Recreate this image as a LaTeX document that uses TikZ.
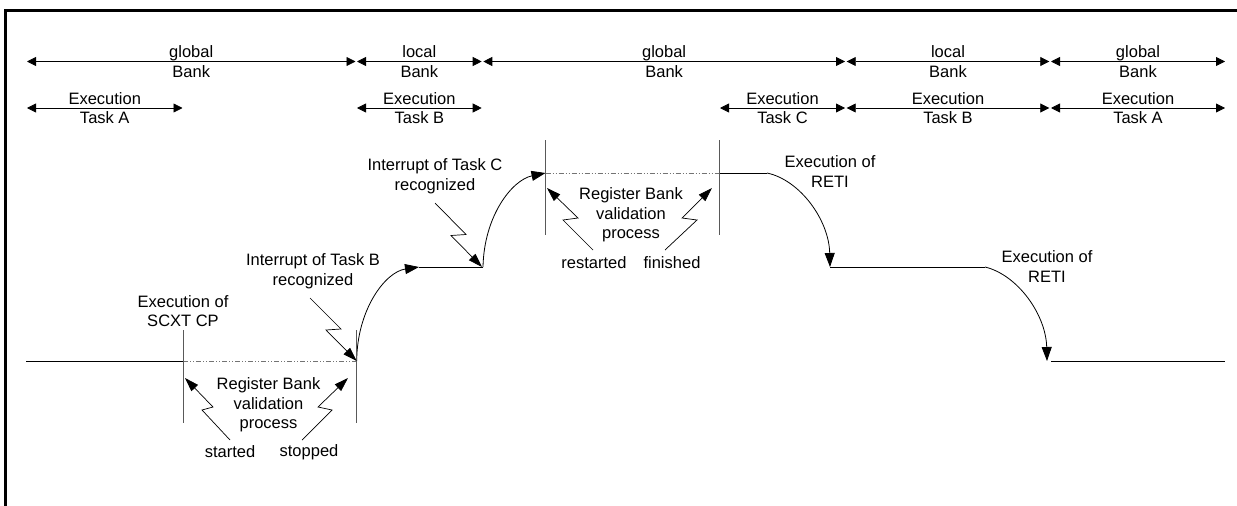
\documentclass[tikz,border=0pt]{standalone}
\usepackage{fontspec}
\setmainfont{Liberation Sans}
\usetikzlibrary{arrows.meta}
\begin{document}
\begin{tikzpicture}[x=1pt,y=-1pt,
  lbl/.style={align=center,font=\fontsize{16.5}{19.5}\selectfont,inner sep=0pt},
  span/.style={line width=0.8pt,{Triangle[length=9pt,width=9pt]}-{Triangle[length=9pt,width=9pt]}},
  wave/.style={line width=0.8pt},
  bigarrow/.style={-{Triangle[length=14pt,width=10pt]}},
  bolt/.style={line width=0.7pt,-{Triangle[length=14pt,width=9pt]}},
  vline/.style={line width=1pt,black!65},
  dd/.style={line width=0.6pt,black!55,dash pattern=on 5pt off 2pt on 1pt off 2pt on 1pt off 2pt},
]
\useasboundingbox (0,0) rectangle (1237,506);
% frame
\draw[line width=2.5pt] (5.5,506) -- (5.5,10.5) -- (1237,10.5);

% ---- top row: banks
\coordinate (a0) at (27,61.5);
\coordinate (a1) at (355.5,61.5);  \coordinate (a1r) at (357,61.5);
\coordinate (a2) at (481.7,61.5);  \coordinate (a2r) at (483.3,61.5);
\coordinate (a3) at (845,61.5);    \coordinate (a3r) at (846.7,61.5);
\coordinate (a4) at (1049.3,61.5); \coordinate (a4r) at (1051,61.5);
\coordinate (a5) at (1225,61.5);
\draw[span] (a0) -- node[lbl] (bk1) {global\\Bank} (a1);
\draw[span] (a1r) -- node[lbl] (bk2) {local\\Bank} (a2);
\draw[span] (a2r) -- node[lbl] (bk3) {global\\Bank} (a3);
\draw[span] (a3r) -- node[lbl] (bk4) {local\\Bank} (a4);
\draw[span] (a4r) -- node[lbl] (bk5) {global\\Bank} (a5);

% ---- second row: tasks
\coordinate (t1a) at (27,108);     \coordinate (t1b) at (182.5,108);
\coordinate (t2a) at (357,108);    \coordinate (t2b) at (481.7,108);
\coordinate (t3a) at (720,108);    \coordinate (t3b) at (845,108);
\coordinate (t4a) at (846.7,108);  \coordinate (t4b) at (1049.3,108);
\coordinate (t5a) at (1051,108);   \coordinate (t5b) at (1225,108);
\draw[span] (t1a) -- node[lbl] (ex1) {Execution\\Task A} (t1b);
\draw[span] (t2a) -- node[lbl] (ex2) {Execution\\Task B} (t2b);
\draw[span] (t3a) -- node[lbl] (ex3) {Execution\\Task C} (t3b);
\draw[span] (t4a) -- node[lbl] (ex4) {Execution\\Task B} (t4b);
\draw[span] (t5a) -- node[lbl] (ex5) {Execution\\Task A} (t5b);

% ---- waveform
\coordinate (lo0) at (26,361);
\coordinate (s1) at (183,361);
\coordinate (s2) at (356.7,361);
\coordinate (m1) at (419,267);
\coordinate (m2) at (483,267);
\coordinate (h0) at (545.5,173);
\coordinate (h1) at (719,173);
\coordinate (h2) at (767,173);
\coordinate (m3) at (830,267);
\coordinate (m4) at (985,267);
\coordinate (lo1) at (1047,361);
\coordinate (lo2) at (1051,361);
\coordinate (lo3) at (1225,361);

\draw[wave] (lo0) -- (s1);
\draw[dd] (s1) -- (s2);
\draw[wave,bigarrow] (s2) .. controls (357,310) and (385,272) .. (m1);
\draw[wave] (m1) -- (m2);
\draw[wave,bigarrow] (m2) .. controls (484,216) and (512,180) .. (h0);
\draw[dd] (h0) -- (h1);
\draw[wave] (h1) -- (h2);
\draw[wave,bigarrow] (h2) .. controls (800,180) and (829,220) .. (m3);
\draw[wave] (m3) -- (m4);
\draw[wave,bigarrow] (m4) .. controls (1018,275) and (1046,315) .. (lo1);
\draw[wave] (lo2) -- (lo3);

% vertical markers
\coordinate (v1t) at (183,330);   \coordinate (v1b) at (183,423);
\coordinate (v2t) at (356.7,330); \coordinate (v2b) at (356.7,423);
\coordinate (v3t) at (545.5,140); \coordinate (v3b) at (545.5,235);
\coordinate (v4t) at (719,140);   \coordinate (v4b) at (719,235);
\draw[vline] (v1t) -- (v1b);
\draw[vline] (v2t) -- (v2b);
\draw[vline] (v3t) -- (v3b);
\draw[vline] (v4t) -- (v4b);

% ---- labels
\node[lbl] (scxt) at (183,311) {Execution of\\SCXT CP};
\node[lbl] (intb) at (313,271) {Interrupt of Task B\\recognized};
\node[lbl] (intc) at (435,176) {Interrupt of Task C\\recognized};
\node[lbl] (rb1) at (268.5,405) {Register Bank\\validation\\process};
\node[lbl] (rb2) at (631,215) {Register Bank\\validation\\process};
\node[lbl] (started) at (230,452) {started};
\node[lbl] (stopped) at (309,452) {stopped};
\node[lbl] (restarted) at (594,263) {restarted};
\node[lbl] (finished) at (672,263) {finished};
\node[lbl] (reti1) at (830,171.5) {Execution of\\RETI};
\node[lbl] (reti2) at (1047,266.5) {Execution of\\RETI};

% ---- lightning arrows
\coordinate (bS) at (310,298); \coordinate (bE) at (356.7,361);
\draw[bolt] (bS) -- (341,329) -- (326,330) -- (bE);
\coordinate (cS) at (435,203); \coordinate (cE) at (482,267);
\draw[bolt] (cS) -- (466,234.5) -- (451,235.5) -- (cE);
\coordinate (stS) at (230,440); \coordinate (stE) at (185,378);
\draw[bolt] (stS) -- (202,410) -- (213,407) -- (stE);
\coordinate (spS) at (302,440); \coordinate (spE) at (348,378);
\draw[bolt] (spS) -- (332,410) -- (318,407) -- (spE);
\coordinate (rsS) at (593,250); \coordinate (rsE) at (547,188);
\draw[bolt] (rsS) -- (563,220) -- (578,218) -- (rsE);
\coordinate (fiS) at (665,250); \coordinate (fiE) at (712,188);
\draw[bolt] (fiS) -- (697,220) -- (682,218) -- (fiE);
\end{tikzpicture}
\end{document}
